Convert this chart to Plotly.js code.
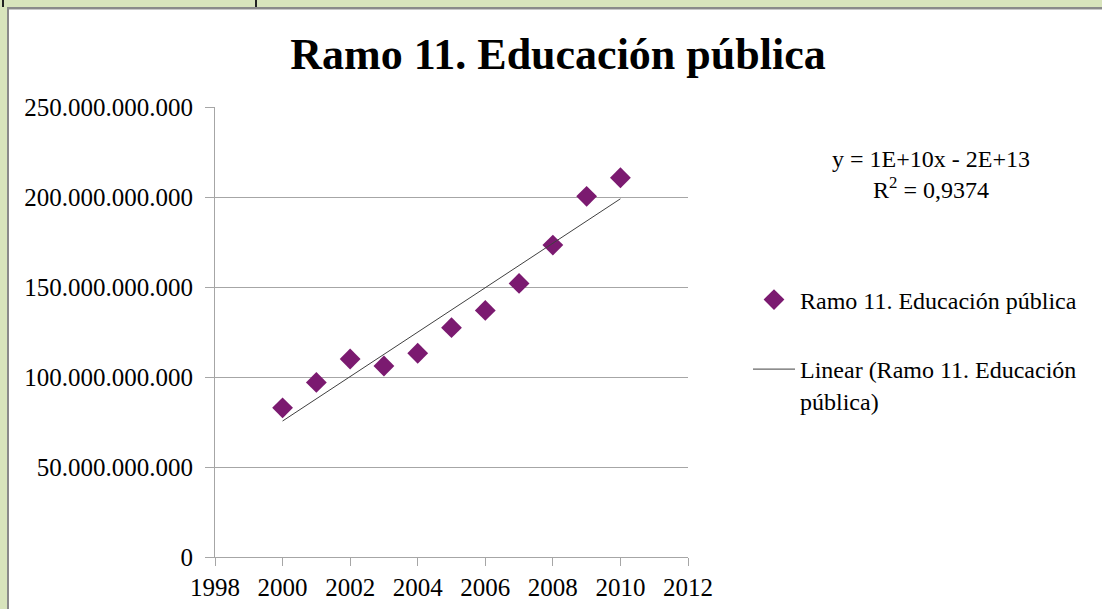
<!DOCTYPE html>
<html>
<head>
<meta charset="utf-8">
<script src="https://cdn.plot.ly/plotly-3.0.1.min.js"></script>
<style>
  html, body { margin: 0; padding: 0; background: #ffffff; overflow: hidden; }
  #chart { position: absolute; left: 0; top: 0; width: 1102px; height: 609px; }
  .frame { position: absolute; pointer-events: none; z-index: 10; }
</style>
</head>
<body>
<div id="chart"></div>
<div class="frame" style="left:0;top:0;width:1102px;height:7px;background:#d8e4bc;"></div>
<div class="frame" style="left:0;top:7px;width:1102px;height:2px;background:#8a8a8a;"></div>
<div class="frame" style="left:0;top:9px;width:1102px;height:1px;background:#c8c8c8;"></div>
<div class="frame" style="left:0;top:0;width:7px;height:609px;background:#d8e4bc;"></div>
<div class="frame" style="left:7px;top:7px;width:2px;height:602px;background:#8a8a8a;"></div>
<div class="frame" style="left:2px;top:0;width:2px;height:7px;background:#222;"></div>
<div class="frame" style="left:255px;top:0;width:2px;height:7px;background:#222;"></div>
<script>
// Data
var years = [2000, 2001, 2002, 2003, 2004, 2005, 2006, 2007, 2008, 2009, 2010];
var gasto = [82.9e9, 97.0e9, 110.0e9, 106.1e9, 113.2e9, 127.4e9, 137.0e9, 152.0e9, 173.3e9, 200.4e9, 210.7e9];
var xTicks = [1998, 2000, 2002, 2004, 2006, 2008, 2010, 2012];
var yTicks = [0, 50e9, 100e9, 150e9, 200e9, 250e9];
var seriesName = 'Ramo 11. Educación pública';
var trendName = 'Linear (Ramo 11. Educación<br>pública)';
var equationText = 'y = 1E+10x - 2E+13<br>R<sup>2</sup> = 0,9374';

// Least-squares linear trend from the data
var n = years.length, mx = 0, my = 0;
for (var i = 0; i < n; i++) { mx += years[i]; my += gasto[i]; }
mx /= n; my /= n;
var sxy = 0, sxx = 0;
for (var i = 0; i < n; i++) { sxy += (years[i] - mx) * (gasto[i] - my); sxx += (years[i] - mx) * (years[i] - mx); }
var slope = sxy / sxx, icpt = my - slope * mx;
var trendX = [years[0], years[n - 1]];
var trendY = trendX.map(function (x) { return icpt + slope * x; });

var FONT = 'Liberation Serif, Times New Roman, serif';
var GRID = '#a6a6a6';

var traces = [
  {
    x: years, y: gasto, type: 'scatter', mode: 'markers', name: seriesName,
    marker: { symbol: 'diamond', size: 16, color: '#7b1a70' },
    legend: 'legend'
  },
  {
    x: trendX, y: trendY, type: 'scatter', mode: 'lines', name: trendName,
    line: { color: '#404040', width: 1 },
    legend: 'legend2'
  }
];

var layout = {
  width: 1102, height: 609,
  margin: { l: 215, r: 414, t: 107, b: 52 },
  paper_bgcolor: '#ffffff', plot_bgcolor: '#ffffff',
  separators: ',.',
  font: { family: FONT, size: 24, color: '#000000' },
  title: {
    text: '<b>Ramo 11. Educación pública</b>',
    font: { family: FONT, size: 44, color: '#000000' },
    x: 558 / 1102, xref: 'container', xanchor: 'center',
    y: 1 - 54 / 609, yref: 'container', yanchor: 'middle'
  },
  xaxis: {
    range: [1998, 2012], tickvals: xTicks, ticktext: xTicks.map(String),
    showgrid: false, zeroline: false,
    showline: true, linecolor: GRID, linewidth: 1,
    ticks: 'outside', ticklen: 8, tickcolor: GRID,
    tickfont: { family: FONT, size: 25, color: '#000' },
    ticklabelstandoff: 0
  },
  yaxis: {
    range: [0, 250e9], tickvals: yTicks, tickformat: ',d',
    showgrid: true, gridcolor: GRID, gridwidth: 1, zeroline: false,
    showline: true, linecolor: GRID, linewidth: 1,
    ticks: 'outside', ticklen: 9, tickcolor: GRID,
    tickfont: { family: FONT, size: 25, color: '#000' },
    ticklabelstandoff: 7
  },
  legend: {
    x: (748 - 215) / 473, xanchor: 'left',
    y: (557 - 300) / 450, yanchor: 'middle',
    itemwidth: 42, font: { family: FONT, size: 24, color: '#000' },
    bgcolor: 'rgba(0,0,0,0)'
  },
  legend2: {
    x: (748 - 215) / 473, xanchor: 'left',
    y: (557 - 385) / 450, yanchor: 'middle',
    itemwidth: 42, valign: 'top', font: { family: FONT, size: 24, color: '#000' },
    bgcolor: 'rgba(0,0,0,0)'
  },
  annotations: [{
    text: equationText, showarrow: false,
    xref: 'paper', yref: 'paper',
    x: (931 - 215) / 473, y: (557 - 174) / 450,
    xanchor: 'center', yanchor: 'middle', align: 'center',
    font: { family: FONT, size: 24, color: '#000' }
  }],
  showlegend: true
};

Plotly.newPlot('chart', traces, layout, { displayModeBar: false, staticPlot: true });
</script>
</body>
</html>
